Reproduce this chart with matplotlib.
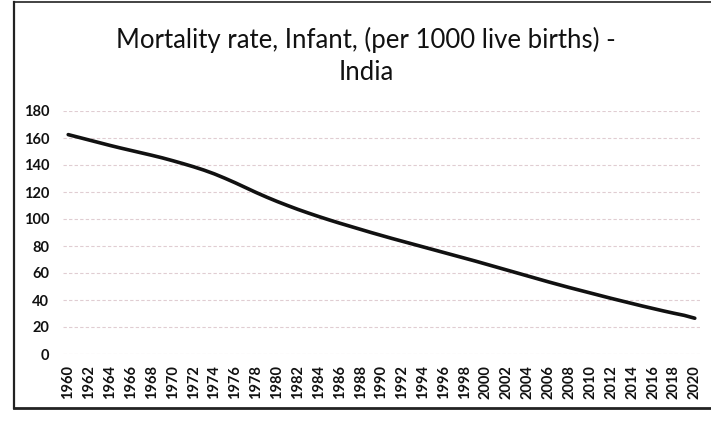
import matplotlib
matplotlib.use("Agg")
import matplotlib.pyplot as plt
from matplotlib.lines import Line2D

# Infant mortality rate, India (per 1000 live births)
years = list(range(1960, 2021))
rate = [162.5, 160.5, 158.5, 156.5, 154.5, 152.6, 150.8, 149.0, 147.2, 145.3,
        143.2, 141.0, 138.7, 136.2, 133.4, 130.2, 126.8, 123.2, 119.6, 116.2,
        113.0, 110.0, 107.1, 104.4, 101.8, 99.3, 96.9, 94.6, 92.3, 90.0,
        87.8, 85.6, 83.5, 81.4, 79.3, 77.2, 75.1, 73.0, 70.9, 68.8,
        66.6, 64.4, 62.2, 60.0, 57.8, 55.6, 53.4, 51.3, 49.2, 47.2,
        45.2, 43.2, 41.2, 39.3, 37.4, 35.5, 33.7, 31.9, 30.2, 28.6,
        26.5]
yticks = [0, 20, 40, 60, 80, 100, 120, 140, 160, 180]
xticks = list(range(1960, 2021, 2))

plt.rcParams['font.family'] = ['Lato', 'DejaVu Sans']

fig = plt.figure(figsize=(7.11, 4.24), dpi=100)
ax = fig.add_axes([63 / 711, 1 - 354 / 424, (700 - 63) / 711, (354 - 111) / 424])

ax.plot(years, rate, color='#111111', lw=2.6, solid_capstyle='round')

ax.set_xlim(1959.5, 2020.5)
ax.set_ylim(0, 180)
ax.set_yticks(yticks)
ax.set_xticks(xticks)
ax.set_xticklabels([str(y) for y in xticks], rotation=90, fontsize=10.5, fontweight='bold')
ax.set_yticklabels([str(v) for v in yticks], fontsize=10.5, fontweight='bold')
ax.tick_params(axis='both', length=0, colors='#111111')
ax.tick_params(axis='y', pad=10)
ax.tick_params(axis='x', pad=8)

ax.grid(axis='y', color='#e0cdd2', lw=0.8, linestyle=(0, (3, 2)))
ax.set_axisbelow(True)
for s in ax.spines.values():
    s.set_visible(False)

fig.text(0.515, 1 - 40 / 424, 'Mortality rate, Infant, (per 1000 live births) -',
         ha='center', va='center', fontsize=18.5, color='#111111')
fig.text(0.515, 1 - 72 / 424, 'India', ha='center', va='center', fontsize=18.5, color='#111111')

# outer chart frame
fig.add_artist(Line2D([14 / 711, 14 / 711], [1 - 408 / 424, 1 - 2 / 424], color='#222222', lw=1.6))
fig.add_artist(Line2D([14 / 711, 1], [1 - 408 / 424, 1 - 408 / 424], color='#222222', lw=2.0))
fig.add_artist(Line2D([14 / 711, 1], [1 - 2 / 424, 1 - 2 / 424], color='#222222', lw=1.2))

fig.savefig('out.png', dpi=100)
